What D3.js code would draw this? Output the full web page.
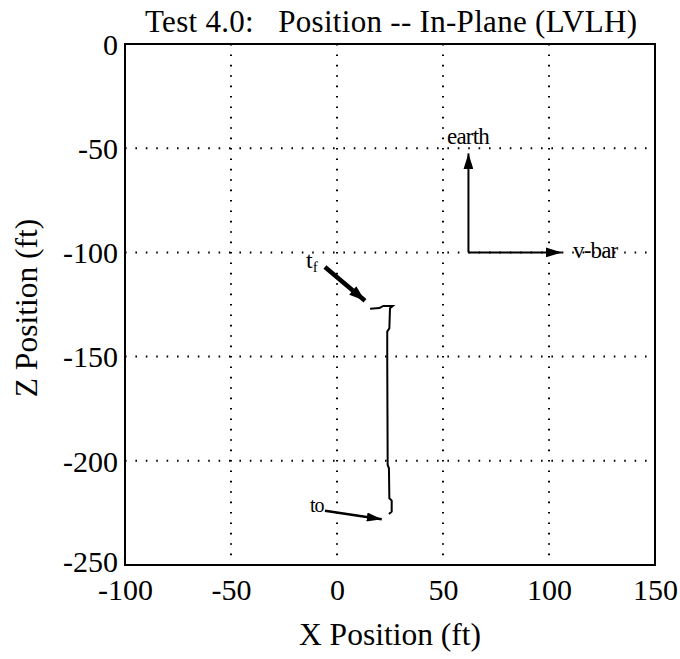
<!DOCTYPE html>
<html lang="en">
<head>
    <meta charset="UTF-8">
    <script src="https://d3js.org/d3.v7.min.js"></script>
    <title>Test 4.0 position</title>
    <style>
        body { margin: 0; background: #fff; }
        text { font-family: "Liberation Serif", "DejaVu Serif", serif; fill: #000; }
    </style>
</head>
<body>
    <script>
        // axis ticks
        const xTicks = [-100, -50, 0, 50, 100, 150];
        const zTicks = [0, -50, -100, -150, -200, -250];

        // trajectory, starting at t0 (bottom) and ending at tf (top)
        const trajX = [24.5, 25.8, 25.8, 24.7, 24.5, 23.9, 23.7, 23.7, 24.7, 25.0, 26.3, 21.8, 20.0, 15.6];
        const trajZ = [-225.5, -224.4, -219.1, -218, -203.6, -202, -151.6, -138, -136.4, -126.8, -125.7, -125.7, -126.7, -127.0];

        // pointer arrows: [x1, z1, x2, z2]
        const tfArrow = [-5.7, -107, 13.2, -123.2];
        const t0Arrow = [-5.7, -224, 21.1, -228];
        const earthArrow = [62, -100, 62, -52.5];
        const vbarArrow = [62, -100, 106, -100];

        const width = 680, height = 659;
        const margin = {left: 125, right: 25, top: 44, bottom: 94};

        const svg = d3.select("body").append("svg")
            .attr("width", width)
            .attr("height", height);

        const x = d3.scaleLinear().domain([-100, 150]).range([margin.left, width - margin.right]);
        const y = d3.scaleLinear().domain([-250, 0]).range([height - margin.bottom, margin.top]);

        // arrow heads
        const defs = svg.append("defs");
        function addMarker(id, len, wid) {
            defs.append("marker")
                .attr("id", id)
                .attr("viewBox", `0 ${-wid / 2} ${len} ${wid}`)
                .attr("refX", len)
                .attr("refY", 0)
                .attr("markerUnits", "userSpaceOnUse")
                .attr("markerWidth", len)
                .attr("markerHeight", wid)
                .attr("orient", "auto")
                .append("path")
                .attr("d", `M0,${-wid / 2}L${len},0L0,${wid / 2}Z`)
                .attr("fill", "#000");
        }
        addMarker("headBig", 16, 11);
        addMarker("headMid", 15, 9);
        addMarker("headSmall", 16, 10);

        // dotted grid
        const grid = svg.append("g");
        grid.selectAll(".vg")
            .data(xTicks.slice(1, -1))
            .enter().append("line")
            .attr("x1", d => x(d)).attr("x2", d => x(d))
            .attr("y1", y(0)).attr("y2", y(-250))
            .attr("stroke", "#000")
            .attr("stroke-width", 2)
            .attr("stroke-dasharray", "1.6,8.8");
        grid.selectAll(".hg")
            .data(zTicks.slice(1, -1))
            .enter().append("line")
            .attr("y1", d => y(d)).attr("y2", d => y(d))
            .attr("x1", x(-100)).attr("x2", x(150))
            .attr("stroke", "#000")
            .attr("stroke-width", 2)
            .attr("stroke-dasharray", "1.6,8.8");

        // frame
        svg.append("rect")
            .attr("x", x(-100))
            .attr("y", y(0))
            .attr("width", x(150) - x(-100))
            .attr("height", y(-250) - y(0))
            .attr("fill", "none")
            .attr("stroke", "#000")
            .attr("stroke-width", 2);

        // axes (labels only, no tick marks); plain hyphen for negatives
        const fmt = d => String(d);
        const xAxis = svg.append("g")
            .attr("transform", `translate(0,${y(-250)})`)
            .call(d3.axisBottom(x).tickValues(xTicks).tickFormat(fmt).tickSize(0).tickPadding(14));
        xAxis.select(".domain").remove();
        xAxis.selectAll("text")
            .attr("font-size", 30)
            .attr("font-family", "Liberation Serif")
            .attr("dy", "0.71em");

        const yAxis = svg.append("g")
            .attr("transform", `translate(${x(-100)},0)`)
            .call(d3.axisLeft(y).tickValues(zTicks).tickFormat(fmt).tickSize(0).tickPadding(7));
        yAxis.select(".domain").remove();
        yAxis.selectAll("text")
            .attr("font-size", 30)
            .attr("font-family", "Liberation Serif")
            .attr("dy", d => d === -250 ? "0.2em" : "0.34em");

        // trajectory
        const line = d3.line()
            .x((d, i) => x(trajX[i]))
            .y((d, i) => y(trajZ[i]));
        svg.append("path")
            .attr("d", line(trajX))
            .attr("fill", "none")
            .attr("stroke", "#000")
            .attr("stroke-width", 2);

        function arrow(a, w, marker) {
            svg.append("line")
                .attr("x1", x(a[0])).attr("y1", y(a[1]))
                .attr("x2", x(a[2])).attr("y2", y(a[3]))
                .attr("stroke", "#000")
                .attr("stroke-width", w)
                .attr("marker-end", `url(#${marker})`);
        }
        arrow(tfArrow, 4.5, "headBig");
        arrow(t0Arrow, 2.5, "headMid");
        arrow(earthArrow, 2, "headSmall");
        arrow(vbarArrow, 2, "headSmall");

        // annotations
        const tf = svg.append("text")
            .attr("x", x(-14.6)).attr("y", y(-107.5))
            .attr("font-size", 24);
        tf.append("tspan").text("t");
        tf.append("tspan").attr("font-size", 15).attr("dy", 4).text("f");

        svg.append("text")
            .attr("x", x(-12.7)).attr("y", y(-224.6))
            .attr("font-size", 20)
            .attr("letter-spacing", -1)
            .text("to");

        svg.append("text")
            .attr("x", x(51.9)).attr("y", y(-48))
            .attr("font-size", 23)
            .attr("letter-spacing", -0.8)
            .text("earth");

        svg.append("text")
            .attr("x", x(111.3)).attr("y", y(-102.7))
            .attr("font-size", 23)
            .attr("letter-spacing", -0.8)
            .text("v-bar");

        // titles
        svg.append("text")
            .attr("x", 145).attr("y", 32)
            .attr("font-size", 31)
            .attr("textLength", 492)
            .attr("lengthAdjust", "spacing")
            .attr("xml:space", "preserve")
            .style("white-space", "pre")
            .text("Test 4.0:   Position -- In-Plane (LVLH)");

        svg.append("text")
            .attr("x", 390).attr("y", 645)
            .attr("text-anchor", "middle")
            .attr("font-size", 31.5)
            .text("X Position (ft)");

        svg.append("text")
            .attr("transform", `translate(37,308) rotate(-90)`)
            .attr("text-anchor", "middle")
            .attr("font-size", 31.5)
            .text("Z Position (ft)");
    </script>
</body>
</html>
